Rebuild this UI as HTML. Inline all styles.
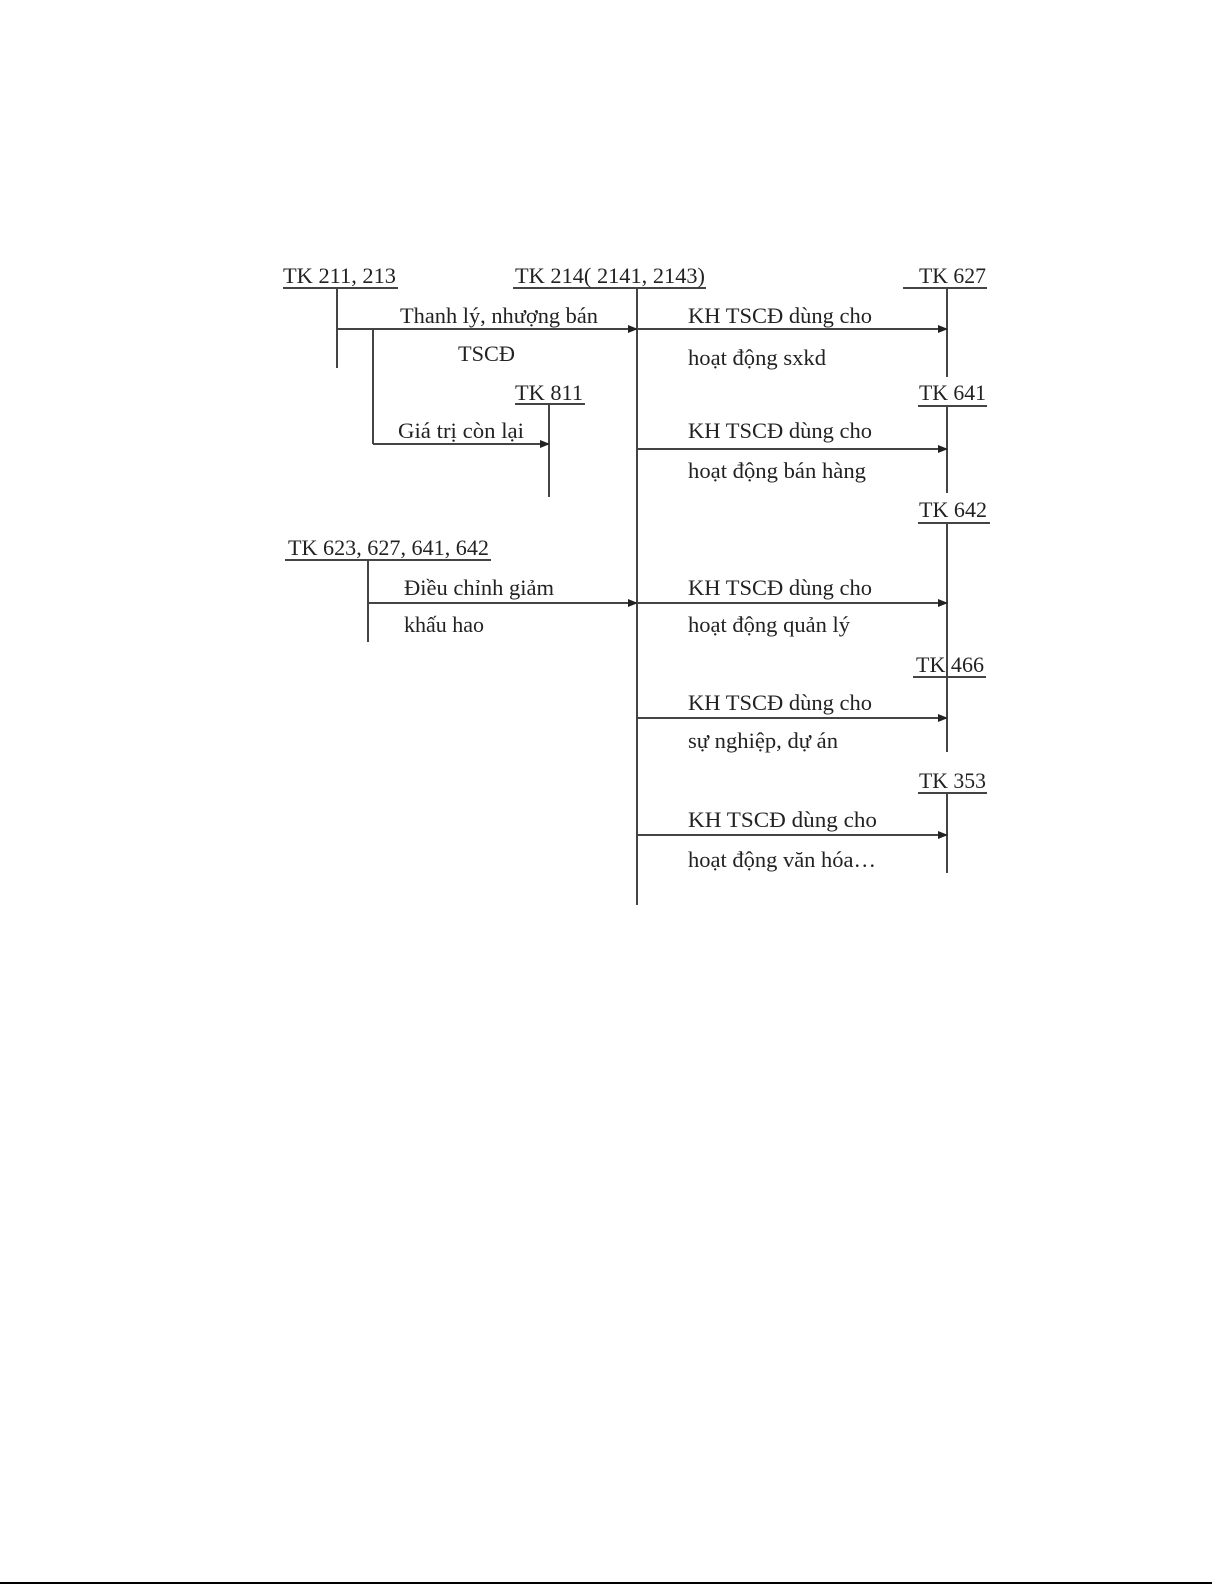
<!DOCTYPE html>
<html><head><meta charset="utf-8"><style>
html,body{margin:0;padding:0;background:#fff;}
svg{display:block;}
text{font-family:"Liberation Serif",serif;font-size:22px;fill:#222;}
</style></head><body>
<svg width="1225" height="1585" viewBox="0 0 1225 1585">
<defs><marker id="a" markerWidth="10" markerHeight="8" refX="9" refY="4" orient="auto" markerUnits="userSpaceOnUse"><path d="M0,0 L10,4 L0,8 Z" fill="#222"/></marker></defs>
<g stroke="#444" stroke-width="2" fill="none">
<!-- underlines -->
<line x1="283" y1="288" x2="398" y2="288"/>
<line x1="513" y1="288" x2="706" y2="288"/>
<line x1="903" y1="288" x2="987" y2="288"/>
<line x1="515" y1="404" x2="585" y2="404"/>
<line x1="918" y1="406" x2="987" y2="406"/>
<line x1="918" y1="523" x2="990" y2="523"/>
<line x1="285" y1="560" x2="491" y2="560"/>
<line x1="913" y1="677" x2="986" y2="677"/>
<line x1="918" y1="793" x2="987" y2="793"/>
<!-- verticals -->
<line x1="337" y1="288" x2="337" y2="368"/>
<line x1="637" y1="288" x2="637" y2="905"/>
<line x1="947" y1="288" x2="947" y2="377"/>
<line x1="947" y1="406" x2="947" y2="493"/>
<line x1="947" y1="523" x2="947" y2="677"/>
<line x1="947" y1="677" x2="947" y2="752"/>
<line x1="947" y1="793" x2="947" y2="873"/>
<line x1="549" y1="404" x2="549" y2="497"/>
<line x1="373" y1="329" x2="373" y2="444"/>
<line x1="368" y1="560" x2="368" y2="642"/>
<!-- arrows -->
<line x1="337" y1="329" x2="637" y2="329" marker-end="url(#a)"/>
<line x1="637" y1="329" x2="947" y2="329" marker-end="url(#a)"/>
<line x1="373" y1="444" x2="549" y2="444" marker-end="url(#a)"/>
<line x1="637" y1="449" x2="947" y2="449" marker-end="url(#a)"/>
<line x1="368" y1="603" x2="637" y2="603" marker-end="url(#a)"/>
<line x1="637" y1="603" x2="947" y2="603" marker-end="url(#a)"/>
<line x1="637" y1="718" x2="947" y2="718" marker-end="url(#a)"/>
<line x1="637" y1="835" x2="947" y2="835" marker-end="url(#a)"/>
</g>
<line x1="0" y1="1583" x2="1212" y2="1583" stroke="#000" stroke-width="2"/>
<text x="283" y="283" textLength="113" lengthAdjust="spacingAndGlyphs">TK 211, 213</text>
<text x="515" y="283" textLength="190" lengthAdjust="spacingAndGlyphs">TK 214( 2141, 2143)</text>
<text x="919" y="283" textLength="67" lengthAdjust="spacingAndGlyphs">TK 627</text>
<text x="400" y="323" textLength="198" lengthAdjust="spacingAndGlyphs">Thanh lý, nhượng bán</text>
<text x="458" y="361" textLength="57" lengthAdjust="spacingAndGlyphs">TSCĐ</text>
<text x="515" y="400" textLength="68" lengthAdjust="spacingAndGlyphs">TK 811</text>
<text x="398" y="438" textLength="126" lengthAdjust="spacingAndGlyphs">Giá trị còn lại</text>
<text x="919" y="400" textLength="67" lengthAdjust="spacingAndGlyphs">TK 641</text>
<text x="919" y="517" textLength="68" lengthAdjust="spacingAndGlyphs">TK 642</text>
<text x="288" y="555" textLength="201" lengthAdjust="spacingAndGlyphs">TK 623, 627, 641, 642</text>
<text x="404" y="595" textLength="150" lengthAdjust="spacingAndGlyphs">Điều chỉnh giảm</text>
<text x="404" y="632" textLength="80" lengthAdjust="spacingAndGlyphs">khấu hao</text>
<text x="916" y="672" textLength="68" lengthAdjust="spacingAndGlyphs">TK 466</text>
<text x="919" y="788" textLength="67" lengthAdjust="spacingAndGlyphs">TK 353</text>
<text x="688" y="323" textLength="184" lengthAdjust="spacingAndGlyphs">KH TSCĐ dùng cho</text>
<text x="688" y="365" textLength="138" lengthAdjust="spacingAndGlyphs">hoạt động sxkd</text>
<text x="688" y="438" textLength="184" lengthAdjust="spacingAndGlyphs">KH TSCĐ dùng cho</text>
<text x="688" y="478" textLength="178" lengthAdjust="spacingAndGlyphs">hoạt động bán hàng</text>
<text x="688" y="595" textLength="184" lengthAdjust="spacingAndGlyphs">KH TSCĐ dùng cho</text>
<text x="688" y="632" textLength="162" lengthAdjust="spacingAndGlyphs">hoạt động quản lý</text>
<text x="688" y="710" textLength="184" lengthAdjust="spacingAndGlyphs">KH TSCĐ dùng cho</text>
<text x="688" y="748" textLength="150" lengthAdjust="spacingAndGlyphs">sự nghiệp, dự án</text>
<text x="688" y="827" textLength="189" lengthAdjust="spacingAndGlyphs">KH  TSCĐ dùng cho</text>
<text x="688" y="867" textLength="188" lengthAdjust="spacingAndGlyphs">hoạt động văn hóa…</text>
</svg>
</body></html>
